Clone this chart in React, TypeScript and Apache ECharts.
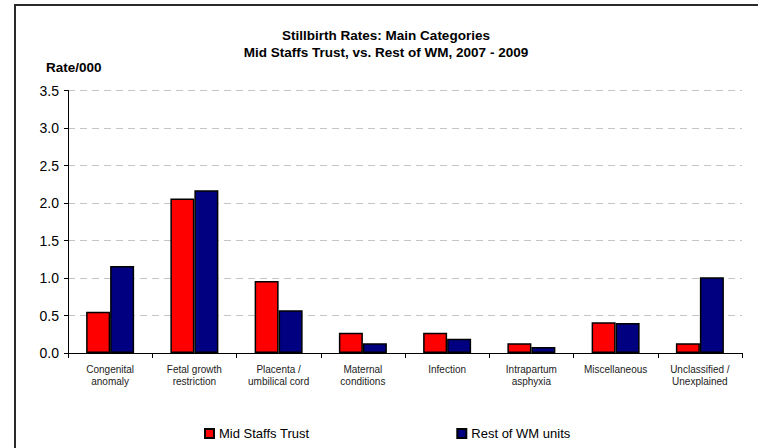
import React, { useEffect, useRef } from "react";
import * as echarts from "echarts";

const categories = [
  "Congenital\nanomaly",
  "Fetal growth\nrestriction",
  "Placenta /\numbilical cord",
  "Maternal\nconditions",
  "Infection",
  "Intrapartum\nasphyxia",
  "Miscellaneous",
  "Unclassified /\nUnexplained",
];
const midStaffs = [0.55, 2.06, 0.96, 0.27, 0.27, 0.13, 0.41, 0.13];
const restOfWM = [1.16, 2.17, 0.57, 0.13, 0.19, 0.08, 0.4, 1.01];
const seriesNames = ["Mid Staffs Trust", "Rest of WM units"];
const titleLines = [
  "Stillbirth Rates: Main Categories",
  "Mid Staffs Trust, vs. Rest of WM, 2007 - 2009",
];
const yAxisTitle = "Rate/000";

const FONT = "'Liberation Sans', Arial, Helvetica, sans-serif";

export default function App() {
  const ref = useRef<HTMLDivElement>(null);
  useEffect(() => {
    if (!ref.current) return;
    const chart = echarts.init(ref.current, undefined, { renderer: "svg" });
    chart.setOption({
      animation: false,
      backgroundColor: "#ffffff",
      textStyle: { fontFamily: FONT },
      graphic: [
        {
          type: "rect",
          z: -10,
          shape: { x: 15, y: 5, width: 800, height: 500 },
          style: { fill: "none", stroke: "#2a2a2a", lineWidth: 2 },
        },
        {
          type: "text",
          x: 386,
          y: 35,
          style: {
            text: titleLines[0],
            font: `bold 13.5px ${FONT}`,
            fill: "#000",
            textAlign: "center",
            textVerticalAlign: "middle",
          },
        },
        {
          type: "text",
          x: 386,
          y: 52,
          style: {
            text: titleLines[1],
            font: `bold 13.5px ${FONT}`,
            fill: "#000",
            textAlign: "center",
            textVerticalAlign: "middle",
          },
        },
        {
          type: "text",
          x: 46,
          y: 67,
          style: {
            text: yAxisTitle,
            font: `bold 13.5px ${FONT}`,
            fill: "#000",
            textAlign: "left",
            textVerticalAlign: "middle",
          },
        },
      ],
      legend: {
        left: 199,
        top: 422,
        itemWidth: 9,
        itemHeight: 9,
        itemGap: 147,
        icon: "rect",
        textStyle: { fontSize: 13, color: "#000", fontFamily: FONT },
        data: seriesNames,
      },
      grid: { left: 68, right: 16, top: 90.5, bottom: 95, containLabel: false },
      xAxis: {
        type: "category",
        data: categories,
        axisLine: { lineStyle: { color: "#000", width: 1 } },
        axisTick: { show: true, length: 5, lineStyle: { color: "#000" } },
        axisLabel: {
          fontSize: 10,
          color: "#222",
          lineHeight: 12,
          margin: 10,
          interval: 0,
          fontFamily: FONT,
        },
      },
      yAxis: {
        type: "value",
        min: 0,
        max: 3.5,
        interval: 0.5,
        axisLine: { show: true, lineStyle: { color: "#000", width: 1 } },
        axisTick: { show: true, length: 4, lineStyle: { color: "#000" } },
        axisLabel: {
          fontSize: 14,
          color: "#000",
          margin: 9,
          fontFamily: FONT,
          formatter: (v: number) => v.toFixed(1),
        },
        splitLine: {
          show: true,
          lineStyle: { color: "#c4c4c4", type: [7, 5], width: 1 },
        },
      },
      series: [
        {
          name: seriesNames[0],
          type: "bar",
          data: midStaffs,
          barWidth: 24,
          barGap: "0%",
          itemStyle: { color: "#ff0000", borderColor: "#000", borderWidth: 1.5 },
        },
        {
          name: seriesNames[1],
          type: "bar",
          data: restOfWM,
          barWidth: 24,
          barGap: "0%",
          itemStyle: { color: "#000080", borderColor: "#000", borderWidth: 1.5 },
        },
      ],
    });
    return () => chart.dispose();
  }, []);
  return (
    <div
      ref={ref}
      style={{ position: "fixed", left: 0, top: 0, width: 758, height: 448 }}
    />
  );
}
